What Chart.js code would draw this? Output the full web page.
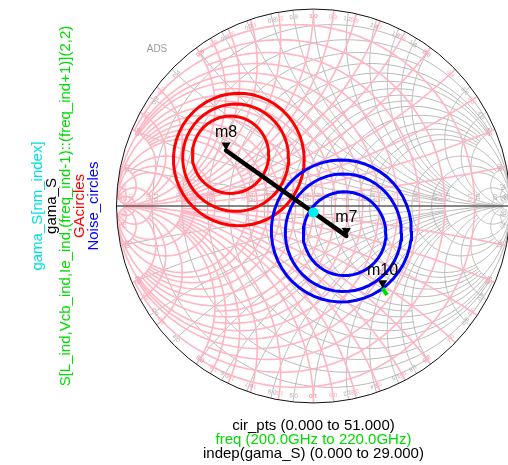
<!DOCTYPE html>
<html>
<head>
<meta charset="utf-8">
<script src="https://cdn.jsdelivr.net/npm/chart.js@4/dist/chart.umd.min.js"></script>
<style>
  html, body { margin: 0; padding: 0; background: #fff; overflow: hidden; }
  #wrap { width: 508px; height: 465px; position: relative; }
</style>
</head>
<body>
<div id="wrap"><canvas id="smith" width="508" height="465"></canvas></div>
<script>
// Reflection coefficients (real, imaginary) on the source plane
const gaCircleCenters    = [[-0.379, 0.233], [-0.395, 0.242], [-0.421, 0.257]];
const gaCircleRadii      = [0.332, 0.269, 0.194];
const noiseCircleCenters = [[0.142, -0.125], [0.152, -0.134], [0.158, -0.139]];
const noiseCircleRadii   = [0.356, 0.295, 0.210];
const gamaS              = [[-0.444, 0.278], [0.167, -0.150]];
const gamaSAtNmIndex     = [0.000, -0.032];
const s22Trace           = [[0.351, -0.412], [0.362, -0.429], [0.374, -0.446]];
const markerNames        = ['m8', 'm7', 'm10'];
const markerPoints       = [gamaS[0], gamaS[1], s22Trace[0]];

// Smith grid: normalized values and how far each arc runs along the other coordinate
const gridValues = [0.1, 0.2, 0.3, 0.4, 0.5, 0.6, 0.7, 0.8, 0.9, 1.0, 1.2, 1.4, 1.6, 1.8, 2.0, 3.0, 4.0, 5.0, 10, 20, 50];
const gridSpans  = [2,   5,   2,   5,   50,  5,   2,   5,   2,   50,  5,   5,   5,   5,   50,  10,  10,  50,  50, 50, 50];
const gridLabels = ['0.1','0.2','0.3','0.4','0.5','0.6','0.7','0.8','0.9','1.0','1.2','1.4','1.6','1.8','2.0','3.0','4.0','5.0','10','20','50'];

// Trace names along the left side and sweep ranges underneath
const traceNames  = ['gama_S[nm_index]', 'gama_S', 'S[L_ind,Vcb_ind,Ie_ind,(freq_ind-1)::(freq_ind+1)](2,2)', 'GAcircles', 'Noise_circles'];
const traceColors = ['#00e0e0', '#000000', '#00dd00', '#ff0000', '#0000ff'];
const sweepTexts  = ['cir_pts (0.000 to 51.000)', 'freq (200.0GHz to 220.0GHz)', 'indep(gama_S) (0.000 to 29.000)'];
const sweepColors = ['#000000', '#00dd00', '#000000'];

const FONT = '"Liberation Sans", Arial, Helvetica, sans-serif';

function circlePoints(c, r) {
  const pts = [];
  for (let k = 0; k <= 51; k++) {
    const a = 2 * Math.PI * k / 51;
    pts.push({ x: c[0] + r * Math.cos(a), y: c[1] + r * Math.sin(a) });
  }
  return pts;
}
const toXY = p => ({ x: p[0], y: p[1] });

// (z - 1) / (z + 1) for z = r + jx
function zToGamma(r, x) {
  const d = (r + 1) * (r + 1) + x * x;
  return [(r * r - 1 + x * x) / d, (2 * x) / d];
}

function resistanceArc(r, xmax) {
  const c = r / (1 + r), rho = 1 / (1 + r);
  const g = zToGamma(r, xmax);
  const a1 = Math.atan2(g[1], g[0] - c);
  const pts = [];
  const N = 160;
  for (let k = 0; k <= N; k++) {
    const a = a1 + (2 * Math.PI - 2 * a1) * k / N;
    pts.push([c + rho * Math.cos(a), rho * Math.sin(a)]);
  }
  return pts;
}

function reactanceArc(x, rmax) {
  const cy = 1 / x, rho = Math.abs(1 / x);
  const g0 = zToGamma(0, x), g1 = zToGamma(rmax, x);
  const a0 = Math.atan2(g0[1] - cy, g0[0] - 1);
  let d = Math.atan2(g1[1] - cy, g1[0] - 1) - a0;
  while (d > Math.PI) d -= 2 * Math.PI;
  while (d <= -Math.PI) d += 2 * Math.PI;
  const pts = [];
  const N = 120;
  for (let k = 0; k <= N; k++) {
    const a = a0 + d * k / N;
    pts.push([1 + rho * Math.cos(a), cy + rho * Math.sin(a)]);
  }
  return pts;
}

const smithGrid = {
  id: 'smithGrid',
  beforeDatasetsDraw(chart) {
    const { ctx, scales: { x: xs, y: ys } } = chart;
    const cx = xs.getPixelForValue(0), cy = ys.getPixelForValue(0);
    const R = xs.getPixelForValue(1) - cx;
    const toPx = (g, m) => [xs.getPixelForValue(m * g[0]), ys.getPixelForValue(g[1])];

    const stroke = (pts, m) => {
      ctx.beginPath();
      pts.forEach((g, i) => {
        const p = toPx(g, m);
        if (i === 0) ctx.moveTo(p[0], p[1]); else ctx.lineTo(p[0], p[1]);
      });
      ctx.stroke();
    };

    const family = (m, color, width) => {
      ctx.strokeStyle = color;
      ctx.lineWidth = width;
      gridValues.forEach((v, i) => {
        stroke(resistanceArc(v, gridSpans[i]), m);
        stroke(reactanceArc(v, gridSpans[i]), m);
        stroke(reactanceArc(-v, gridSpans[i]), m);
      });
    };

    const labels = (m, color) => {
      ctx.fillStyle = color;
      ctx.font = '6px ' + FONT;
      ctx.textAlign = 'center';
      ctx.textBaseline = 'middle';
      gridValues.forEach((v, i) => {
        // along the real axis
        const p = toPx([(v - 1) / (v + 1), 0], m);
        ctx.save();
        ctx.translate(p[0] + 4 * m, p[1] - 9);
        ctx.rotate(-Math.PI / 2);
        ctx.fillText(gridLabels[i], 0, 0);
        ctx.restore();
        // along the rim
        [1, -1].forEach(s => {
          const g = zToGamma(0, s * v);
          const q = toPx(g, m);
          const ang = Math.atan2(q[1] - cy, q[0] - cx);
          ctx.save();
          ctx.translate(cx + (R - 7) * Math.cos(ang), cy + (R - 7) * Math.sin(ang));
          ctx.rotate(ang + Math.PI / 2);
          ctx.fillText(gridLabels[i], 0, 0);
          ctx.restore();
        });
      });
    };

    ctx.save();
    ctx.beginPath();
    ctx.arc(cx, cy, R, 0, 2 * Math.PI);
    ctx.clip();
    family(1, '#b9b9b9', 1);
    family(-1, '#ffb5c2', 1.6);
    labels(1, '#ababab');
    labels(-1, '#ffaab9');
    ctx.restore();

    // real axis
    ctx.save();
    ctx.strokeStyle = '#5e5e5e';
    ctx.lineWidth = 1.5;
    ctx.beginPath();
    ctx.moveTo(cx - R, cy);
    ctx.lineTo(chart.width, cy);
    ctx.stroke();
    // outer rim
    ctx.strokeStyle = '#111';
    ctx.lineWidth = 1;
    ctx.beginPath();
    ctx.arc(cx, cy, R, 0, 2 * Math.PI);
    ctx.stroke();
    ctx.restore();
  }
};

const markerPlugin = {
  id: 'markerPlugin',
  afterDatasetsDraw(chart) {
    const { ctx, scales: { x: xs, y: ys } } = chart;
    ctx.save();
    ctx.fillStyle = '#000';
    ctx.font = '16px ' + FONT;
    ctx.textAlign = 'center';
    ctx.textBaseline = 'middle';
    markerPoints.forEach((g, i) => {
      const px = xs.getPixelForValue(g[0]), py = ys.getPixelForValue(g[1]);
      ctx.beginPath();
      ctx.moveTo(px, py);
      ctx.lineTo(px - 4.5, py - 8);
      ctx.lineTo(px + 4.5, py - 8);
      ctx.closePath();
      ctx.fill();
      ctx.fillText(markerNames[i], px, py - 18);
    });
    ctx.restore();
  }
};

const textPlugin = {
  id: 'textPlugin',
  afterDraw(chart) {
    const { ctx } = chart;
    const cy = chart.scales.y.getPixelForValue(0);
    const cx = chart.scales.x.getPixelForValue(0);
    ctx.save();
    ctx.font = '15px ' + FONT;
    ctx.textAlign = 'center';
    ctx.textBaseline = 'middle';
    traceNames.forEach((t, i) => {
      ctx.save();
      ctx.translate(37.5 + 14.1 * i, cy);
      ctx.rotate(-Math.PI / 2);
      ctx.fillStyle = traceColors[i];
      ctx.fillText(t, 0, 0);
      ctx.restore();
    });
    sweepTexts.forEach((t, i) => {
      ctx.fillStyle = sweepColors[i];
      ctx.fillText(t, cx, 425.7 + 14.3 * i);
    });
    ctx.font = '10px ' + FONT;
    ctx.fillStyle = '#9a9a9a';
    ctx.fillText('ADS', 157, 49.7);
    ctx.restore();
  }
};

const lineSet = (data, color, width, order) => ({
  data, borderColor: color, borderWidth: width, showLine: true,
  pointRadius: 0, fill: false, tension: 0, order
});

const datasets = [];
gaCircleCenters.forEach((c, i) => datasets.push(lineSet(circlePoints(c, gaCircleRadii[i]), '#ff0000', 3, 4)));
noiseCircleCenters.forEach((c, i) => datasets.push(lineSet(circlePoints(c, noiseCircleRadii[i]), '#0000ff', 3, 3)));
datasets.push(Object.assign(lineSet(gamaS.map(toXY), '#000000', 4.5, 2), { borderCapStyle: 'round' }));
datasets.push(lineSet(s22Trace.map(toXY), '#00dd00', 4, 1));
datasets.push({
  data: [toXY(gamaSAtNmIndex)], showLine: false, pointRadius: 5,
  backgroundColor: '#00f0f0', borderWidth: 0, order: 0
});

const R_PX = 199.5, CX = 316, CY = 206;
new Chart(document.getElementById('smith'), {
  type: 'scatter',
  data: { datasets },
  options: {
    responsive: false,
    animation: false,
    events: [],
    layout: { padding: { left: CX - R_PX, top: CY - R_PX, right: 0, bottom: 465 - (CY + R_PX) } },
    scales: {
      x: { type: 'linear', min: -1, max: -1 + (508 - (CX - R_PX)) / R_PX, display: false },
      y: { type: 'linear', min: -1, max: 1, display: false }
    },
    plugins: { legend: { display: false }, tooltip: { enabled: false } }
  },
  plugins: [smithGrid, markerPlugin, textPlugin]
});
</script>
</body>
</html>
